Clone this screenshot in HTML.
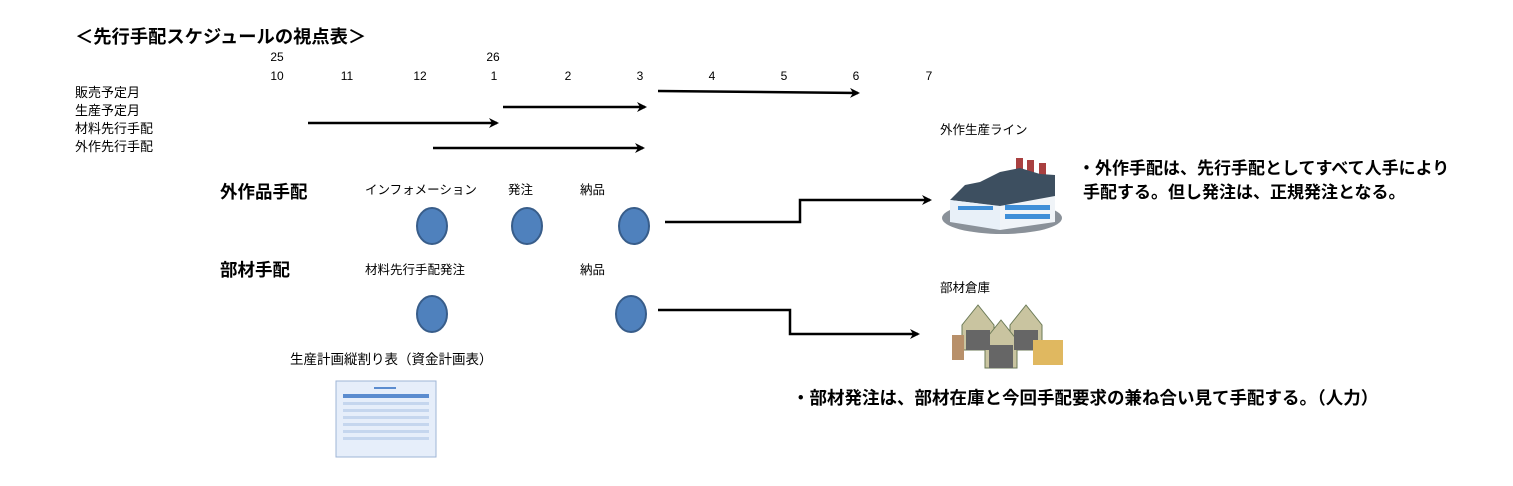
<!DOCTYPE html>
<html><head><meta charset="utf-8"><style>
body{margin:0;background:#fff;width:1513px;height:481px;overflow:hidden}
svg text{font-family:"Liberation Sans","Noto Sans CJK JP",sans-serif;fill:#000}
</style></head><body>
<svg width="1513" height="481" viewBox="0 0 1513 481" xmlns="http://www.w3.org/2000/svg">
<defs><marker id="a" markerWidth="10" markerHeight="10" refX="8" refY="5" orient="auto" markerUnits="userSpaceOnUse"><path d="M0,0 L10,5 L0,10 L3,5 z" fill="#000"/></marker></defs>
<text x="75" y="43" font-size="18.3" font-weight="bold">＜先行手配スケジュールの視点表＞</text>
<g font-size="12" text-anchor="middle">
<text x="277" y="61">25</text><text x="493" y="61">26</text>
<text x="277" y="80">10</text><text x="347" y="80">11</text><text x="420" y="80">12</text><text x="494" y="80">1</text><text x="568" y="80">2</text><text x="640" y="80">3</text><text x="712" y="80">4</text><text x="784" y="80">5</text><text x="856" y="80">6</text><text x="929" y="80">7</text>
</g>
<g font-size="13"><text x="75" y="97">販売予定月</text><text x="75" y="115">生産予定月</text><text x="75" y="133">材料先行手配</text><text x="75" y="151">外作先行手配</text></g>
<g stroke="#000" stroke-width="2.5" fill="none" marker-end="url(#a)">
<line x1="658" y1="91" x2="858" y2="93"/>
<line x1="503" y1="107" x2="645" y2="107"/>
<line x1="308" y1="123" x2="497" y2="123"/>
<line x1="433" y1="148" x2="643" y2="148"/>
<polyline points="665,222 800,222 800,200 930,200"/>
<polyline points="658,310 790,310 790,334 918,334"/>
</g>
<text x="220" y="198" font-size="17.5" font-weight="bold">外作品手配</text>
<text x="220" y="276" font-size="17.5" font-weight="bold">部材手配</text>
<g font-size="12.5"><text x="365" y="194">インフォメーション</text><text x="508" y="194">発注</text><text x="580" y="194">納品</text>
<text x="365" y="274">材料先行手配発注</text><text x="580" y="274">納品</text>
<text x="290" y="364" font-size="13.5">生産計画縦割り表（資金計画表）</text>
<text x="940" y="134">外作生産ライン</text><text x="940" y="292">部材倉庫</text></g>
<g fill="#4f81bd" stroke="#385d8a" stroke-width="2">
<ellipse cx="432" cy="226" rx="15" ry="18"/><ellipse cx="527" cy="226" rx="15" ry="18"/><ellipse cx="634" cy="226" rx="15" ry="18"/>
<ellipse cx="432" cy="314" rx="15" ry="18"/><ellipse cx="631" cy="314" rx="15" ry="18"/>
</g>
<g font-size="17" font-weight="bold"><text x="1078" y="174">・外作手配は、先行手配としてすべて人手により</text><text x="1083" y="198">手配する。但し発注は、正規発注となる。</text></g>
<text x="792" y="404" font-size="17.5" font-weight="bold">・部材発注は、部材在庫と今回手配要求の兼ね合い見て手配する。（人力）</text>
<!-- factory -->
<ellipse cx="1002" cy="218" rx="60" ry="16" fill="#8a9199"/>
<rect x="1016" y="158" width="7" height="35" fill="#a94040"/><rect x="1027" y="160" width="7" height="33" fill="#a94040"/><rect x="1039" y="163" width="7" height="30" fill="#a94040"/>
<polygon points="950,200 965,185 980,182 1000,172 1020,168 1040,174 1055,175 1055,200 1000,206" fill="#3d4f60"/>
<polygon points="950,200 1000,206 1000,230 950,222" fill="#e8f0f8"/>
<polygon points="1000,206 1055,196 1055,222 1000,230" fill="#f0f4f8"/>
<rect x="958" y="206" width="35" height="4" fill="#3f8fd8"/>
<rect x="1005" y="205" width="45" height="5" fill="#3f8fd8"/><rect x="1005" y="214" width="45" height="5" fill="#3f8fd8"/>
<!-- warehouse -->
<g fill="#c9c4a0" stroke="#6b7a56">
<polygon points="962,325 978,305 994,325 994,350 962,350"/><polygon points="1010,325 1026,305 1042,325 1042,350 1010,350"/><polygon points="985,340 1001,320 1017,340 1017,368 985,368"/></g>
<rect x="966" y="330" width="24" height="20" fill="#666"/><rect x="1014" y="330" width="24" height="20" fill="#666"/><rect x="989" y="345" width="24" height="23" fill="#666"/>
<rect x="1033" y="340" width="30" height="25" fill="#e0b860"/><rect x="952" y="335" width="12" height="25" fill="#b8906a"/>
<!-- table -->
<rect x="336" y="381" width="100" height="76" fill="#e6eefa" stroke="#9fb5d6"/>
<rect x="343" y="394" width="86" height="4" fill="#5b8ccf"/>
<g fill="#c5d6ee"><rect x="343" y="402" width="86" height="3"/><rect x="343" y="409" width="86" height="3"/><rect x="343" y="416" width="86" height="3"/><rect x="343" y="423" width="86" height="3"/><rect x="343" y="430" width="86" height="3"/><rect x="343" y="437" width="86" height="3"/></g>
<rect x="374" y="387" width="22" height="2" fill="#5b8ccf"/>
</svg>
</body></html>
